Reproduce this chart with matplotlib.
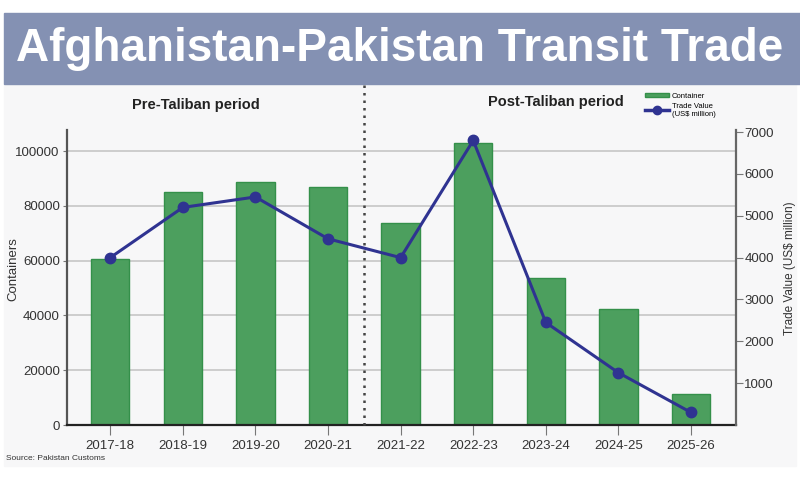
import numpy as np
import matplotlib
matplotlib.use("Agg")
import matplotlib.pyplot as plt
from matplotlib.patches import Rectangle
from matplotlib.lines import Line2D
from matplotlib.patches import Patch
import matplotlib.transforms as mtransforms
from matplotlib import font_manager

# --- Dados ---
years = ["2017-18", "2018-19", "2019-20", "2020-21", "2021-22",
         "2022-23", "2023-24", "2024-25", "2025-26"]
containers = [60500, 85000, 88700, 87000, 73600, 102800, 53500, 42300, 11300]
trade_value = [4000, 5200, 5450, 4450, 4000, 6800, 2450, 1250, 300]
left_ticks = [0, 20000, 40000, 60000, 80000, 100000]
right_ticks = [1000, 2000, 3000, 4000, 5000, 6000, 7000]

# --- Estilo ---
BAR_GREEN = "#4c9f5e"
BAR_EDGE = "#34904a"
LINE_BLUE = "#2f3391"
BANNER = "#8491b3"

names = {f.name for f in font_manager.fontManager.ttflist}
TITLE_FONT = "Liberation Sans Narrow" if "Liberation Sans Narrow" in names else "Liberation Sans"
plt.rcParams["font.family"] = ["Liberation Sans", "DejaVu Sans"]

fig = plt.figure(figsize=(8, 4.8), dpi=100)
fig.patch.set_facecolor("white")

# painel de fundo + faixa do título
fig.add_artist(Rectangle((4 / 800, 1 - 466 / 480), 792 / 800, (466 - 84) / 480,
                         transform=fig.transFigure, color="#f7f7f8", zorder=0))
fig.add_artist(Rectangle((4 / 800, 1 - 84 / 480), 796 / 800, 71 / 480,
                         transform=fig.transFigure, color=BANNER, zorder=0))
fig.text(0.5, 1 - 49 / 480, "Afghanistan-Pakistan Transit Trade",
         family=TITLE_FONT, fontsize=38 if TITLE_FONT.endswith("Narrow") else 33,
         fontweight="bold", color="white", ha="center", va="center")

ax = fig.add_axes([66.7 / 800, 1 - 425 / 480, (736 - 66.7) / 800, 295 / 480])
ax.set_facecolor("none")
x = np.arange(len(years))

ax.bar(x, containers, width=0.53, color=BAR_GREEN, edgecolor=BAR_EDGE,
       linewidth=1.0, zorder=2)
ax.set_xlim(-0.6, 8.62)
ax.set_ylim(0, 107700)
ax.set_yticks(left_ticks)
ax.set_yticklabels([str(t) for t in left_ticks], fontsize=9.5, color="#333333")
ax.set_xticks(x)
ax.set_xticklabels(years, fontsize=9.5, color="#333333")
ax.tick_params(axis="x", length=7, color="#777777", pad=4)
ax.tick_params(axis="y", length=3, color="#777777", pad=2)
ax.yaxis.grid(True, color="#c6c6c6", linewidth=1.2, zorder=0)
ax.set_axisbelow(True)
ax.set_ylabel("Containers", fontsize=9.5, color="#333333")
ax.yaxis.set_label_coords(-0.070, 0.53)

ax.spines["top"].set_visible(False)
ax.spines["left"].set_color("#555555")
ax.spines["left"].set_linewidth(1.6)
ax.spines["right"].set_visible(False)
ax.spines["bottom"].set_color("#222222")
ax.spines["bottom"].set_linewidth(1.6)

ax2 = ax.twinx()
ax2.plot(x, trade_value, color=LINE_BLUE, linewidth=2.2, marker="o",
         markersize=7.5, zorder=4)
ax2.set_ylim(0, 7050)
ax2.set_yticks(right_ticks)
ax2.set_yticklabels([str(t) for t in right_ticks], fontsize=9.5, color="#333333")
ax2.tick_params(axis="y", length=5, color="#777777", pad=1)
ax2.set_ylabel("Trade Value (US$ million)", fontsize=8.5, color="#333333")
ax2.yaxis.set_label_coords(1.072, 0.53)
ax2.spines["top"].set_visible(False)
ax2.spines["left"].set_visible(False)
ax2.spines["bottom"].set_visible(False)
ax2.spines["right"].set_color("#666666")
ax2.spines["right"].set_linewidth(1.6)

# linha pontilhada separando os períodos
trans = mtransforms.blended_transform_factory(ax.transData, ax.transAxes)
ax.plot([3.5, 3.5], [0, (425 - 84) / 295], transform=trans, color="#444444",
        linestyle=(0, (1, 2)), linewidth=1.8, clip_on=False, zorder=3)

fig.text(196 / 800, 1 - 105 / 480, "Pre-Taliban period", fontsize=10.5,
         fontweight="bold", color="#222222", ha="center", va="center")
fig.text(556 / 800, 1 - 102 / 480, "Post-Taliban period", fontsize=10.5,
         fontweight="bold", color="#222222", ha="center", va="center")

handles = [Patch(facecolor=BAR_GREEN, edgecolor=BAR_EDGE),
           Line2D([0], [0], color=LINE_BLUE, linewidth=2.5, marker="o", markersize=6)]
fig.legend(handles, ["Container", "Trade Value\n(US$ million)"],
           loc="upper left", bbox_to_anchor=(640 / 800, 1 - 88 / 480),
           fontsize=5.5, frameon=False, handlelength=3.2, handleheight=0.6,
           labelspacing=0.4, handletextpad=0.4, borderpad=0.1)

fig.text(6 / 800, 1 - 458 / 480, "Source: Pakistan Customs", fontsize=6,
         color="#333333", ha="left", va="center")

fig.savefig("out.png", dpi=100)
